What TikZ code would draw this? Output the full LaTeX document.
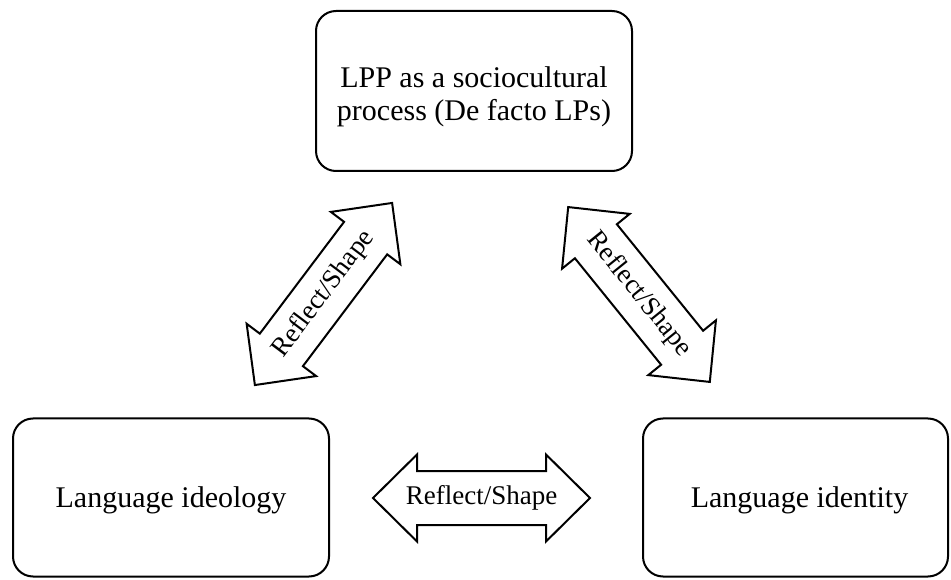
\documentclass[tikz,border=0pt]{standalone}
\usepackage{fontspec}
\setmainfont{Liberation Serif}
\begin{document}
\begin{tikzpicture}[x=1pt,y=1pt,
  box/.style={draw, line width=2pt, rounded corners=20pt, inner sep=0pt},
  boxtext/.style={align=center, font=\fontsize{30}{33}\selectfont, inner sep=0pt},
  arrowshape/.style={draw, line width=2pt, fill=white, line join=miter},
  arrowlabel/.style={font=\fontsize{27}{29}\selectfont, inner sep=0pt, transform shape},
  pics/dblarrow/.style={code={
    \draw[arrowshape] (-#1/2,0) -- (-#1/2+44,43.5) -- (-#1/2+44,27) -- (#1/2-44,27)
      -- (#1/2-44,43.5) -- (#1/2,0) -- (#1/2-44,-43.5) -- (#1/2-44,-27)
      -- (-#1/2+44,-27) -- (-#1/2+44,-43.5) -- cycle;
    \node[arrowlabel] (-label) {Reflect/Shape};
  }}
]
\useasboundingbox (0,0) rectangle (951,579);
\node[box, minimum width=316pt, minimum height=160pt] (lpp) at (474,488) {};
\node[boxtext] (lpptext) at ([yshift=-6pt]lpp.center)
  {LPP as a sociocultural\\process (De facto LPs)};
\node[box, minimum width=316pt, minimum height=158pt] (ideo) at (171,81.5) {};
\node[boxtext] (ideotext) at ([yshift=-3pt]ideo.center) {Language ideology};
\node[box, minimum width=305pt, minimum height=158pt] (iden) at (795.5,81.5) {};
\node[boxtext] (identext) at ([xshift=4pt,yshift=-3pt]iden.center) {Language identity};
\pic[rotate=53] (arrL) at (323.5,285) {dblarrow=228};
\pic[rotate=-51] (arrR) at (639,284.5) {dblarrow=225};
\pic (arrB) at (481.5,81) {dblarrow=217};
\end{tikzpicture}
\end{document}
